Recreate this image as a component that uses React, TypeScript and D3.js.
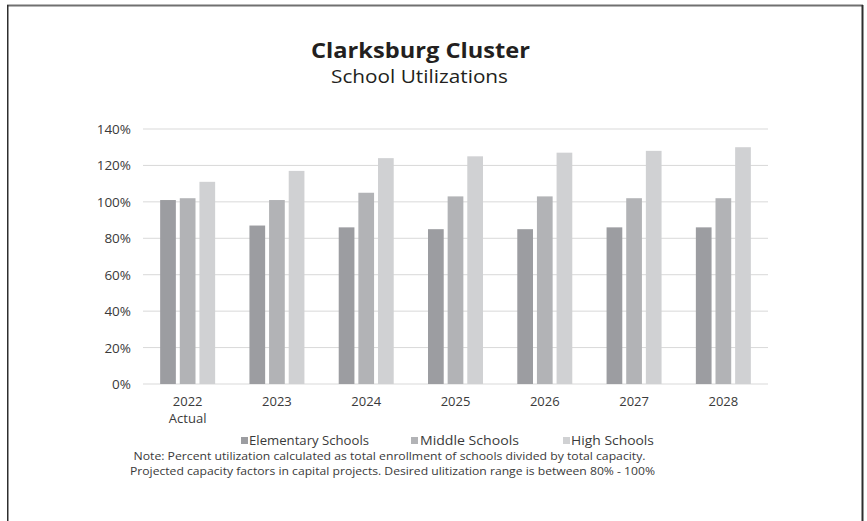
import React from "react";
import * as d3 from "d3";

const categories = ["2022", "2023", "2024", "2025", "2026", "2027", "2028"];
const subLabels = ["Actual", "", "", "", "", "", ""];
const seriesNames = ["Elementary Schools", "Middle Schools", "High Schools"];
const elementary = [101, 87, 86, 85, 85, 86, 86];
const middle = [102, 101, 105, 103, 103, 102, 102];
const high = [111, 117, 124, 125, 127, 128, 130];
const yTicks = [0, 20, 40, 60, 80, 100, 120, 140];
const colors = ["#9c9da1", "#b2b3b6", "#d0d1d3"];
const noteLines = [
  "Note:  Percent utilization calculated as total enrollment of schools divided by total capacity.",
  "Projected capacity factors in capital projects. Desired ulitization range is between 80% - 100%",
];

const W = 867;
const H = 521;
const FONT = "'Open Sans', sans-serif";

export default function App() {
  const seriesValues = [elementary, middle, high];
  const x0 = d3.scaleBand<string>().domain(categories).range([143, 768]).padding(0);
  const step = x0.step();
  const groupW = step * 0.616;
  const x1 = d3
    .scaleBand<string>()
    .domain(seriesNames)
    .range([(step - groupW) / 2, (step + groupW) / 2])
    .paddingInner(0.2);
  const y = d3.scaleLinear().domain([0, 140]).range([384, 129]);

  const legendItems = [
    { sq: 241, tx: 249, tw: 120 },
    { sq: 411, tx: 420, tw: 99 },
    { sq: 563, tx: 571, tw: 83 },
  ];

  return (
    <svg
      width={W}
      height={H}
      style={{ position: "absolute", left: 0, top: 0, display: "block", background: "#fff" }}
      fontFamily={FONT}
    >
      <rect x={0} y={0} width={W} height={H} fill="#fff" />
      {/* frame */}
      <rect x={7} y={4.5} width={856} height={2} fill="#707070" />
      <rect x={7} y={5} width={1.5} height={H} fill="#2e2e2e" />
      <rect x={861.5} y={5} width={2} height={H} fill="#2e2e2e" />

      {/* title */}
      <text x={420.5} y={58} textAnchor="middle" fontSize={22} fontWeight={700} fill="#231f20" textLength={219} lengthAdjust="spacingAndGlyphs">
        Clarksburg Cluster
      </text>
      <text x={419.5} y={83} textAnchor="middle" fontSize={18} fill="#231f20" textLength={177} lengthAdjust="spacingAndGlyphs">
        School Utilizations
      </text>

      {/* gridlines */}
      {yTicks.map((t) => (
        <line key={t} x1={143} x2={768} y1={y(t)} y2={y(t)} stroke="#d9d9d9" strokeWidth={1} />
      ))}
      {yTicks.map((t) => (
        <text key={"l" + t} x={131} y={y(t) + 5} textAnchor="end" fontSize={13.5} fill="#3a3a3a">
          {t + "%"}
        </text>
      ))}

      {/* bars */}
      {seriesNames.map((s, si) =>
        categories.map((c, ci) => (
          <rect
            key={s + c}
            x={(x0(c) as number) + (x1(s) as number)}
            y={y(seriesValues[si][ci])}
            width={x1.bandwidth()}
            height={y(0) - y(seriesValues[si][ci])}
            fill={colors[si]}
          />
        ))
      )}

      {/* x labels */}
      {categories.map((c, ci) => (
        <g key={"x" + c}>
          <text x={(x0(c) as number) + step / 2} y={406} textAnchor="middle" fontSize={13} fill="#3a3a3a">
            {c}
          </text>
          {subLabels[ci] && (
            <text x={(x0(c) as number) + step / 2} y={423} textAnchor="middle" fontSize={13} fill="#3a3a3a">
              {subLabels[ci]}
            </text>
          )}
        </g>
      ))}

      {/* legend */}
      {seriesNames.map((s, si) => (
        <g key={"lg" + s}>
          <rect x={legendItems[si].sq} y={437} width={7} height={7} fill={colors[si]} />
          <text x={legendItems[si].tx} y={445} fontSize={13} fill="#3a3a3a" textLength={legendItems[si].tw} lengthAdjust="spacingAndGlyphs">
            {s}
          </text>
        </g>
      ))}

      {/* notes */}
      {noteLines.map((n, i) => (
        <text key={"n" + i} x={i === 0 ? 389.5 : 392.5} y={460 + i * 15} textAnchor="middle" fontSize={11.5} fill="#3a3a3a" textLength={i === 0 ? 512 : 525} lengthAdjust="spacingAndGlyphs">
          {n}
        </text>
      ))}
    </svg>
  );
}
